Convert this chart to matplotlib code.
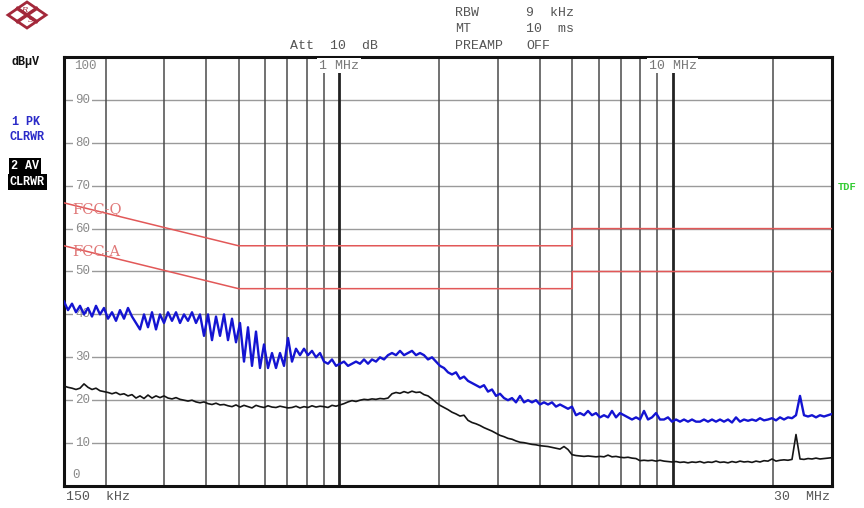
import numpy as np
import matplotlib.pyplot as plt
from matplotlib.transforms import blended_transform_factory
from matplotlib.patches import Polygon

plt.rcParams['font.family'] = ['Liberation Mono', 'DejaVu Sans']

# sweep: 150 kHz .. 30 MHz, log spaced analyzer points
f_start, f_stop = 0.15, 30.0

# trace 1 (PK, blue), dBuV
peak = [
    43, 41, 42.5, 40.5, 42, 40, 41.5, 39.5, 42, 40,
    41.5, 39, 40.5, 38.5, 41, 39, 41.5, 39.5, 38, 36.5,
    40, 37, 40.5, 36.5, 40, 38, 40.5, 38.5, 40.5, 38,
    40, 38.5, 40.5, 38, 40, 35, 40, 34, 39.5, 35,
    40, 34, 39, 33.5, 38, 29, 37, 28, 36, 27.5,
    33, 27.5, 31, 27.5, 31, 28, 34.5, 29, 32, 30.5,
    32, 30.5, 31.5, 30, 31, 29, 28.5, 29.5, 28, 28.5,
    29, 28, 28.5, 29, 28.5, 29.5, 28.5, 29.5, 29, 30,
    29.5, 30.5, 31, 30.5, 31.5, 30.5, 31, 31.5, 30.5, 31,
    30.5, 29.5, 30, 29, 28, 27.5, 26.5, 26, 26.5, 25,
    25.5, 24.5, 24, 23.5, 23, 23.5, 22, 22.5, 21, 21.5,
    20.5, 20, 20.5, 19.5, 21, 19.5, 20, 19.5, 20, 19,
    19.5, 19, 19.5, 18.5, 19, 18.5, 18, 18.5, 16.5, 17,
    16.5, 17.5, 16.5, 17, 16, 16.5, 16, 17.5, 16, 17,
    16.5, 16, 15.5, 16, 15.5, 17.5, 15.5, 16, 17, 15.5,
    15.5, 16, 15, 15.5, 15, 15.5, 15, 15.5, 15, 15,
    15.5, 15, 15.5, 15, 15.5, 15, 15.5, 14.8, 16, 15,
    15.5, 15.2, 15.5, 15.2, 15.8, 15.3, 15.5, 15.8, 15.3, 16,
    15.5, 16, 15.8, 16.5, 21, 16.5, 16.2, 16.5, 16, 16.5,
    16.2, 16.5, 16.8,
]

# trace 2 (AV, black), dBuV
average = [
    23.3, 23, 22.8, 22.5, 22.8, 23.8, 23, 22.5, 22.8, 22.2,
    22, 21.8, 21.5, 21.8, 21.3, 21.5, 21, 21.3, 20.5, 21,
    20.4, 21.2, 20.5, 21, 20.6, 21, 20.5, 20.3, 20.6, 20.2,
    20, 19.8, 20, 19.6, 19.4, 19.6, 19.2, 19, 19.3, 18.9,
    19, 18.7, 18.5, 18.9, 18.4, 18.8, 18.5, 18.2, 18.8, 18.5,
    18.3, 18.7, 18.4, 18.3, 18.6, 18.4, 18.2, 18.3, 18.6, 18.2,
    18.5, 18.3, 18.7, 18.4, 18.6, 18.5, 18.3, 18.8, 18.6, 18.9,
    19.2, 19.6, 19.9, 19.7, 20, 20.2, 20.1, 20.3, 20.2, 20.4,
    20.3, 20.5, 21.5, 21.8, 21.6, 22, 21.7, 22.1, 21.8, 21.9,
    21.3, 21, 20.3, 19.5, 18.8, 18.3, 17.8, 17.2, 16.8, 16.3,
    16.5, 15.3, 14.8, 14.5, 14.1, 13.6, 13.2, 12.8, 12.3, 11.8,
    11.5, 11.1, 10.9, 10.5, 10.2, 10.1, 9.9, 9.7, 9.6, 9.4,
    9.3, 9.2, 9.0, 8.8, 8.6, 9.2, 8.5, 7.3, 7.1, 7.0,
    6.9, 7.0, 6.9, 6.8, 6.9, 6.8, 7.2, 6.8, 6.9, 6.7,
    6.6, 6.7, 6.5, 6.4, 5.9, 6.0, 5.9, 6.0, 5.8, 6.0,
    5.8, 5.7, 5.6, 5.7, 5.5, 5.6, 5.4, 5.6, 5.5, 5.7,
    5.4, 5.6, 5.5, 5.8, 5.5, 5.6, 5.4, 5.7, 5.5, 5.8,
    5.6, 5.7, 5.5, 5.8, 5.6, 5.9, 5.8, 6.3, 5.8, 6.0,
    6.1, 6.0, 6.2, 12.0, 6.3, 6.2, 6.4, 6.3, 6.5, 6.3,
    6.4, 6.5, 6.6,
]

# limit lines (MHz / dBuV)
limit_f = [0.15, 0.5, 0.5, 5, 5, 30]
limit_qp = [66, 56, 56, 56, 60, 60]
limit_av = [56, 46, 46, 46, 50, 50]

grid_f = [0.2, 0.3, 0.4, 0.5, 0.6, 0.7, 0.8, 0.9, 1,
          2, 3, 4, 5, 6, 7, 8, 9, 10, 20]
grid_db = [10, 20, 30, 40, 50, 60, 70, 80, 90]

W, H = 864, 508
fig = plt.figure(figsize=(W / 100, H / 100), dpi=100)
ax = fig.add_axes([64 / W, 22 / H, 768 / W, 429 / H])
ax.set_xscale('log')
ax.set_xlim(f_start, f_stop)
ax.set_ylim(0, 100)
ax.tick_params(which='both', length=0, labelbottom=False, labelleft=False)
for s in ax.spines.values():
    s.set_linewidth(2.2)
    s.set_color('#111111')

for v in grid_db:
    ax.axhline(v, color='#9a9a9a', lw=1.0, zorder=1)
for f in grid_f:
    major = f in (1, 10)
    ax.axvline(f, color='#222222' if major else '#4a4a4a',
               lw=2.0 if major else 1.1, zorder=1)

freq_pk = np.geomspace(f_start, f_stop, len(peak))
freq_av = np.geomspace(f_start, f_stop, len(average))

ax.plot(limit_f, limit_qp, color='#e25858', lw=1.1, zorder=3)
ax.plot(limit_f, limit_av, color='#e25858', lw=1.1, zorder=3)
ax.plot(freq_av, average, color='#151515', lw=1.2, zorder=4)
ax.plot(freq_pk, peak, color='#1414d2', lw=1.7, zorder=5)

# level labels inside the grid (under the traces)
tr = blended_transform_factory(ax.transAxes, ax.transData)
lab_kw = dict(fontsize=9, color='#8a8a8a', ha='center', va='center',
              transform=tr, zorder=2)
for v in grid_db:
    ax.text(0.024, v, str(v), bbox=dict(fc='white', ec='none', pad=1.5),
            **lab_kw)
ax.text(0.028, 0.979, '100', fontsize=9, color='#8a8a8a', ha='center',
        va='center', transform=ax.transAxes, zorder=2)
ax.text(0.015, 0.025, '0', fontsize=9, color='#8a8a8a', ha='center',
        va='center', transform=ax.transAxes, zorder=2)

trx = blended_transform_factory(ax.transData, ax.transAxes)
for f, t in [(1, '1 MHz'), (10, '10 MHz')]:
    ax.text(f, 0.98, t, fontsize=9.5, color='#777777', ha='center',
            va='center', transform=trx, zorder=6,
            bbox=dict(fc='white', ec='none', pad=1.2))

ax.text(0.011, 0.645, 'FCC-Q', fontsize=10.5, color='#e07878',
        family='DejaVu Serif', transform=ax.transAxes, va='center', zorder=6)
ax.text(0.011, 0.545, 'FCC-A', fontsize=10.5, color='#e07878',
        family='DejaVu Serif', transform=ax.transAxes, va='center', zorder=6)


def px(x, y):
    return x / W, 1 - y / H


hdr = dict(fontsize=9.5, color='#555555', va='center')
fig.text(*px(455, 13), 'RBW', **hdr)
fig.text(*px(526, 13), '9  kHz', **hdr)
fig.text(*px(455, 29), 'MT', **hdr)
fig.text(*px(526, 29), '10  ms', **hdr)
fig.text(*px(455, 46), 'PREAMP', **hdr)
fig.text(*px(526, 46), 'OFF', **hdr)
fig.text(*px(290, 46), 'Att  10  dB', **hdr)
fig.text(*px(66, 497), '150  kHz', **hdr)
fig.text(*px(830, 497), '30  MHz', ha='right', **hdr)

side = dict(fontsize=8.5, fontweight='bold', va='center')
fig.text(*px(12, 62), 'dBµV', color='#111111', **side)
fig.text(*px(12, 122), '1 PK', color='#2a2ac8', **side)
fig.text(*px(10, 137), 'CLRWR', color='#2a2ac8', **side)
fig.text(*px(11, 166), '2 AV', color='white',
         bbox=dict(fc='black', ec='none', pad=1.2), **side)
fig.text(*px(10, 182), 'CLRWR', color='white',
         bbox=dict(fc='black', ec='none', pad=1.2), **side)
fig.text(*px(838, 187), 'TDF', color='#33cc33', fontsize=7.5,
         fontweight='bold', va='center')

# R&S logo
lg = fig.add_axes([0, 1 - 32 / H, 56 / W, 32 / H])
lg.set_xlim(0, 56)
lg.set_ylim(32, 0)
lg.axis('off')
red = '#a3283a'
lg.add_patch(Polygon([(8, 15), (27, 2), (46, 15), (27, 28)], closed=True,
                     fill=False, ec=red, lw=2))
lg.plot([17.5, 36.5], [8.5, 21.5], color=red, lw=2.5)
lg.plot([36.5, 17.5], [8.5, 21.5], color=red, lw=2.5)
lg.text(24, 10, 'R', fontsize=6, color=red, ha='center', va='center',
        style='italic', family='DejaVu Serif')
lg.text(31, 20, 'S', fontsize=6, color=red, ha='center', va='center',
        style='italic', family='DejaVu Serif')

fig.savefig('out.png', dpi=100)
